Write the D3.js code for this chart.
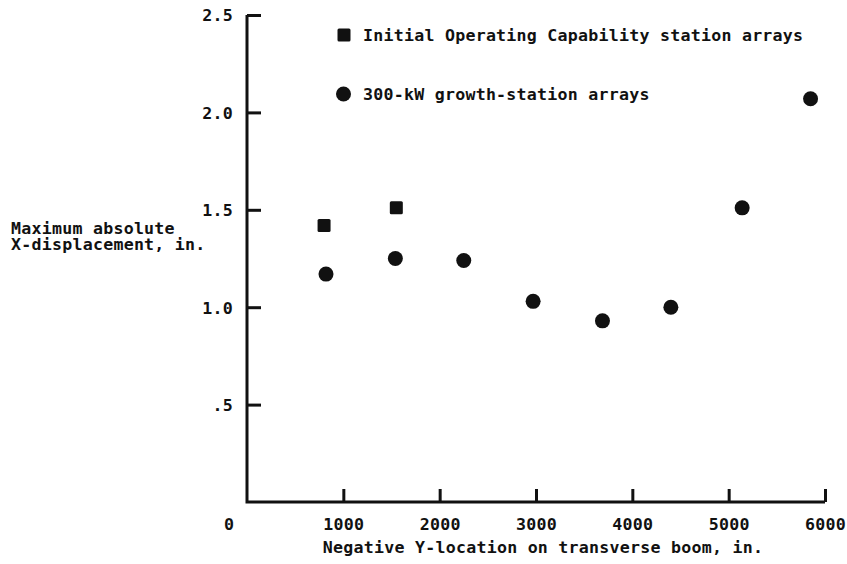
<!DOCTYPE html>
<html>
<head>
<meta charset="utf-8">
<script src="https://cdn.jsdelivr.net/npm/d3@7"></script>
<style>
  body { margin: 0; background: #fff; }
  svg text {
    font-family: "DejaVu Sans Mono", monospace;
    font-size: 16.6px;
    font-weight: bold;
    letter-spacing: 0.25px;
    fill: #111;
  }
</style>
</head>
<body>
<svg id="chart" width="847" height="564"></svg>
<script>
// Initial Operating Capability station arrays
const iocX = [800, 1550];
const iocY = [1.42, 1.51];

// 300-kW growth-station arrays
const growthX = [820, 1540, 2250, 2970, 3690, 4400, 5140, 5850];
const growthY = [1.17, 1.25, 1.24, 1.03, 0.93, 1.00, 1.51, 2.07];

const xTicks = [1000, 2000, 3000, 4000, 5000, 6000];
const yTicks = [0.5, 1.0, 1.5, 2.0, 2.5];
const yTickLabels = [".5", "1.0", "1.5", "2.0", "2.5"];
const legendLabels = ["Initial Operating Capability station arrays", "300-kW growth-station arrays"];
const xTitle = "Negative Y-location on transverse boom, in.";
const yTitle = ["Maximum absolute", "X-displacement, in."];

const svg = d3.select("#chart");
const plotLeft = 247, plotRight = 825, plotTop = 15, plotBottom = 502;

const x = d3.scaleLinear().domain([0, 6000]).range([plotLeft, plotRight]);
const y = d3.scaleLinear().domain([0, 2.5]).range([plotBottom, plotTop]);

const ink = "#111";

// x axis ticks (pointing into the plot)
const gx = svg.append("g")
  .attr("transform", `translate(0,${plotBottom})`)
  .call(d3.axisBottom(x).tickValues(xTicks).tickSizeInner(-13).tickSizeOuter(0).tickFormat(d3.format("d")));
gx.select(".domain").remove();
gx.selectAll(".tick line").attr("stroke", ink).attr("stroke-width", 3);
gx.selectAll(".tick text").attr("y", 28).attr("dy", 0).attr("fill", ink);
// origin label
gx.append("text").attr("x", x(0) - 18).attr("y", 28).attr("text-anchor", "middle").text("0");

// y axis ticks
const gy = svg.append("g")
  .attr("transform", `translate(${plotLeft},0)`)
  .call(d3.axisLeft(y).tickValues(yTicks).tickSizeInner(-14).tickSizeOuter(0)
    .tickFormat((d, i) => yTickLabels[i]));
gy.select(".domain").remove();
gy.selectAll(".tick line").attr("stroke", ink).attr("stroke-width", 3);
gy.selectAll(".tick text").attr("x", -14).attr("dy", "0.36em").attr("fill", ink);

// axis frame
svg.append("path")
  .attr("d", `M${plotLeft},${plotTop}V${plotBottom}H${plotRight}`)
  .attr("fill", "none").attr("stroke", ink).attr("stroke-width", 3)
  .attr("stroke-linejoin", "miter");

// axis titles
svg.append("text").attr("x", 543).attr("y", 553).attr("text-anchor", "middle").text(xTitle);
svg.selectAll(".ytitle").data(yTitle).join("text")
  .attr("class", "ytitle")
  .attr("x", 11).attr("y", (d, i) => 234 + i * 16).text(d => d);

// data marks
const sq = 13;
svg.append("g").selectAll("rect").data(iocX).join("rect")
  .attr("x", (d) => x(d) - sq / 2)
  .attr("y", (d, i) => y(iocY[i]) - sq / 2)
  .attr("width", sq).attr("height", sq).attr("rx", 1.5)
  .attr("fill", ink);

svg.append("g").selectAll("circle").data(growthX).join("circle")
  .attr("cx", (d) => x(d))
  .attr("cy", (d, i) => y(growthY[i]))
  .attr("r", 7.5)
  .attr("fill", ink);

// legend
const lg = svg.append("g");
lg.append("rect").attr("x", 337.5).attr("y", 28.5).attr("width", sq).attr("height", sq).attr("rx", 1.5).attr("fill", ink);
lg.append("text").attr("x", 363).attr("y", 41).text(legendLabels[0]);
lg.append("circle").attr("cx", 343.5).attr("cy", 94).attr("r", 7.5).attr("fill", ink);
lg.append("text").attr("x", 363).attr("y", 100).text(legendLabels[1]);
</script>
</body>
</html>
